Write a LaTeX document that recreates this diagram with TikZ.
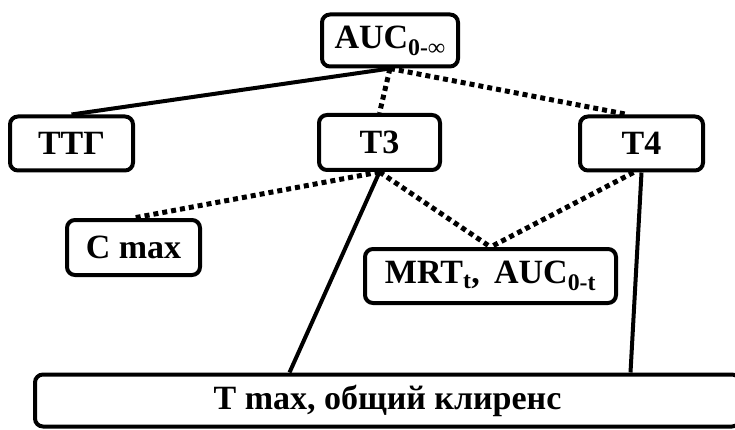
\documentclass[tikz,border=0pt]{standalone}
\usepackage{fontspec}
\setmainfont{Liberation Serif}

\begin{document}
\begin{tikzpicture}[x=1pt, y=-1pt,
    box/.style={draw, line width=4pt, rounded corners=8pt, inner sep=0pt,
      font=\fontsize{34}{38}\selectfont\bfseries},
    solid link/.style={line width=4pt},
    dotted link/.style={line width=5pt, dash pattern=on 5pt off 4pt}]
  \useasboundingbox (0,0) rectangle (735,430);

  % top level
  \node[box, minimum width=136pt, minimum height=52pt] (auc) at (390,40.5) {AUC\textsubscript{0-∞}};

  % second row
  \node[box, minimum width=123pt, minimum height=54pt] (ttg) at (71.5,143.5) {ТТГ};
  \node[box, minimum width=121pt, minimum height=55pt] (t3) at (379.5,142.5) {T3};
  \node[box, minimum width=123pt, minimum height=54pt] (t4) at (641.5,143.5) {T4};

  % parameters
  \node[box, minimum width=133pt, minimum height=55pt] (cmax) at (133.5,247.5) {C max};
  \node[box, minimum width=251pt, minimum height=54pt] (mrt) at (490.5,276) {MRT\textsubscript{t},\, AUC\textsubscript{0-t}};
  \node[box, minimum width=705pt, minimum height=52pt] (tmax) at (387.5,400.5) {T max, общий клиренс};

  % links from AUC
  \draw[solid link] (auc.south) -- (ttg.north);
  \draw[dotted link] (auc.south) -- (t3.north);
  \draw[dotted link] (auc.south) -- ([xshift=-14pt]t4.north);

  % links from T3
  \draw[dotted link] (t3.south) -- (cmax.north);
  \draw[dotted link] (t3.south) -- (mrt.north);
  \draw[solid link] (t3.south) -- ([xshift=-98pt]tmax.north);

  % links from T4
  \draw[dotted link] ([xshift=-8pt]t4.south) -- (mrt.north);
  \draw[solid link] (t4.south) -- ([xshift=243pt]tmax.north);
\end{tikzpicture}
\end{document}
